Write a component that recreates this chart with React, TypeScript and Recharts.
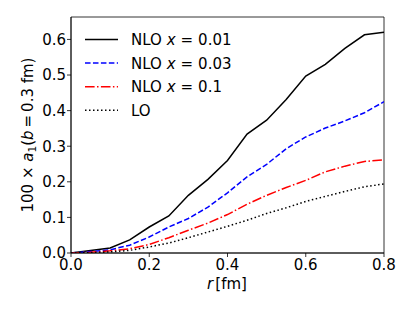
import React from "react";
import { LineChart, Line, XAxis, YAxis, ReferenceArea } from "recharts";

const rValues = [0, 0.05, 0.1, 0.15, 0.2, 0.25, 0.3, 0.35, 0.4, 0.45, 0.5, 0.55, 0.6, 0.65, 0.7, 0.75, 0.8];
const nloX001 = [0, 0.007, 0.014, 0.037, 0.073, 0.104, 0.162, 0.207, 0.26, 0.334, 0.373, 0.431, 0.497, 0.53, 0.575, 0.613, 0.62];
const nloX003 = [0, 0.004, 0.009, 0.022, 0.045, 0.073, 0.097, 0.129, 0.169, 0.214, 0.249, 0.293, 0.326, 0.351, 0.371, 0.394, 0.425];
const nloX01 = [0, 0.002, 0.006, 0.012, 0.024, 0.043, 0.064, 0.084, 0.108, 0.137, 0.162, 0.184, 0.204, 0.228, 0.244, 0.257, 0.262];
const loValues = [0, 0.001, 0.003, 0.0075, 0.017, 0.028, 0.043, 0.059, 0.075, 0.092, 0.111, 0.127, 0.145, 0.159, 0.173, 0.186, 0.194];

const xTicks = [0, 0.2, 0.4, 0.6, 0.8];
const yTicks = [0, 0.1, 0.2, 0.3, 0.4, 0.5, 0.6];

const data = rValues.map((r, i) => ({
  r,
  a: nloX001[i],
  b: nloX003[i],
  c: nloX01[i],
  d: loValues[i],
}));

const FONT = "DejaVu Sans";
const FS = 15;

const series = [
  { key: "a", color: "#000000", dash: undefined as string | undefined, label: "0.01", nlo: true },
  { key: "b", color: "#0000ff", dash: "5.55 2.4", label: "0.03", nlo: true },
  { key: "c", color: "#ff0000", dash: "9.6 2.4 1.5 2.4", label: "0.1", nlo: true },
  { key: "d", color: "#000000", dash: "1.5 2.5", label: "LO", nlo: false },
];

export default function App() {
  return (
    <div style={{ position: "absolute", left: 0, top: 0, width: 415, height: 311, background: "#fff" }}>
      <LineChart
        width={415}
        height={311}
        data={data}
        margin={{ top: 17, right: 31, bottom: 28, left: 21 }}
      >
        <XAxis
          dataKey="r"
          type="number"
          domain={[0, 0.8]}
          ticks={xTicks}
          tickFormatter={(v: number) => v.toFixed(1)}
          tick={{ fill: "#000", fontSize: FS, fontFamily: FONT }}
          tickLine={{ stroke: "#000", strokeWidth: 0.8 }}
          axisLine={{ stroke: "#000", strokeWidth: 0.8 }}
          tickSize={4}
          tickMargin={2}
          height={30}
          allowDataOverflow
        />
        <YAxis
          type="number"
          domain={[0, 0.663]}
          ticks={yTicks}
          tickFormatter={(v: number) => v.toFixed(1)}
          tick={{ fill: "#000", fontSize: FS, fontFamily: FONT }}
          tickLine={{ stroke: "#000", strokeWidth: 0.8 }}
          axisLine={{ stroke: "#000", strokeWidth: 0.8 }}
          tickSize={4}
          tickMargin={1}
          width={50}
          allowDataOverflow
        />
        <ReferenceArea x1={0} x2={0.8} y1={0} y2={0.663} fill="none" stroke="#000" strokeWidth={0.8} ifOverflow="visible" />
        {series.map((s) => (
          <Line
            key={s.key}
            dataKey={s.key}
            type="linear"
            stroke={s.color}
            strokeWidth={1.5}
            strokeDasharray={s.dash}
            dot={false}
            activeDot={false}
            isAnimationActive={false}
          />
        ))}
      </LineChart>
      <svg
        width={415}
        height={311}
        style={{ position: "absolute", left: 0, top: 0, pointerEvents: "none" }}
        fontFamily={FONT}
      >
        {series.map((s, i) => {
          const y = 39.5 + i * 23.6;
          return (
            <g key={s.key}>
              <line x1={85} x2={118} y1={y} y2={y} stroke={s.color} strokeWidth={1.5} strokeDasharray={s.dash} />
              <text x={131} y={y + 5.5} fontSize={FS} fill="#000">
                {s.nlo ? (
                  <>
                    <tspan>NLO </tspan>
                    <tspan fontStyle="italic">x</tspan>
                    <tspan dx={5}>=</tspan>
                    <tspan dx={5}>{s.label}</tspan>
                  </>
                ) : (
                  <tspan>{s.label}</tspan>
                )}
              </text>
            </g>
          );
        })}
        <text x={227} y={289} fontSize={FS} textAnchor="middle" fill="#000">
          <tspan fontStyle="italic">r</tspan>
          <tspan dx={2}>[fm]</tspan>
        </text>
        <text x={33} y={135} fontSize={FS} textAnchor="middle" fill="#000" transform="rotate(-90 33 135)">
          <tspan>100 × </tspan>
          <tspan fontStyle="italic">a</tspan>
          <tspan fontSize={10.5} dy={3}>1</tspan>
          <tspan dy={-3}>(</tspan>
          <tspan fontStyle="italic">b</tspan>
          <tspan dx={3}>=</tspan>
          <tspan dx={3}>0.3 fm)</tspan>
        </text>
      </svg>
    </div>
  );
}
